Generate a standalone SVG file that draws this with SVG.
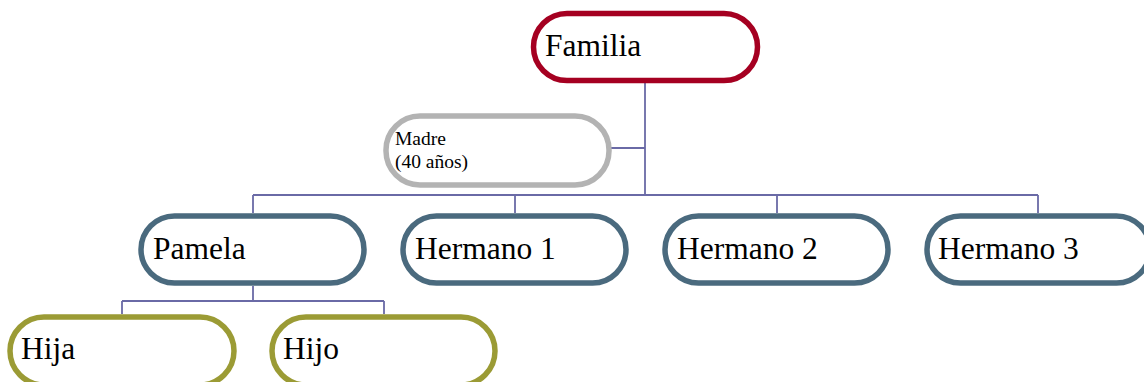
<svg xmlns="http://www.w3.org/2000/svg" width="1144" height="382" viewBox="0 0 1144 382">
<style>
.n{fill:#fff;stroke-width:5.5}
.root{stroke:#A50021}
.gray{stroke:#B3B3B3}
.blue{stroke:#4A6A7E}
.olive{stroke:#9B9B35}
.t{font-family:"Liberation Serif",serif;font-size:31.5px;fill:#000}
.s{font-family:"Liberation Serif",serif;font-size:19.5px;fill:#000}
.c{fill:none;stroke:#6A6AA6;stroke-width:1.8}
</style>
<g id="connectors">
<path class="c" d="M645,83 V195 M611,148 H645 M253,195 H1038 M253,195 V213 M515,195 V213 M777,195 V213 M1038,195 V213"/>
<path class="c" d="M253,286 V301 M122,301 H384 M122,301 V314 M384,301 V314"/>
</g>
<g id="familia"><rect class="n root" x="533.5" y="13.5" width="224" height="67" rx="33.5"/><text class="t" x="545" y="56">Familia</text></g>
<g id="madre"><rect class="n gray" x="386" y="116" width="223" height="69" rx="34"/><text class="s" x="395" y="145">Madre</text><text class="s" x="395" y="168">(40 años)</text></g>
<g id="pamela"><rect class="n blue" x="141" y="216" width="223" height="67" rx="33.5"/><text class="t" x="153" y="259">Pamela</text></g>
<g id="hermano1"><rect class="n blue" x="403" y="216" width="223" height="67" rx="33.5"/><text class="t" x="415" y="259">Hermano 1</text></g>
<g id="hermano2"><rect class="n blue" x="665" y="216" width="223" height="67" rx="33.5"/><text class="t" x="677" y="259">Hermano 2</text></g>
<g id="hermano3"><rect class="n blue" x="927" y="216" width="223" height="67" rx="33.5"/><text class="t" x="938" y="259">Hermano 3</text></g>
<g id="hija"><rect class="n olive" x="10" y="317" width="224" height="68" rx="34"/><text class="t" x="21" y="359">Hija</text></g>
<g id="hijo"><rect class="n olive" x="272" y="317" width="223" height="68" rx="34"/><text class="t" x="283" y="359">Hijo</text></g>
</svg>
